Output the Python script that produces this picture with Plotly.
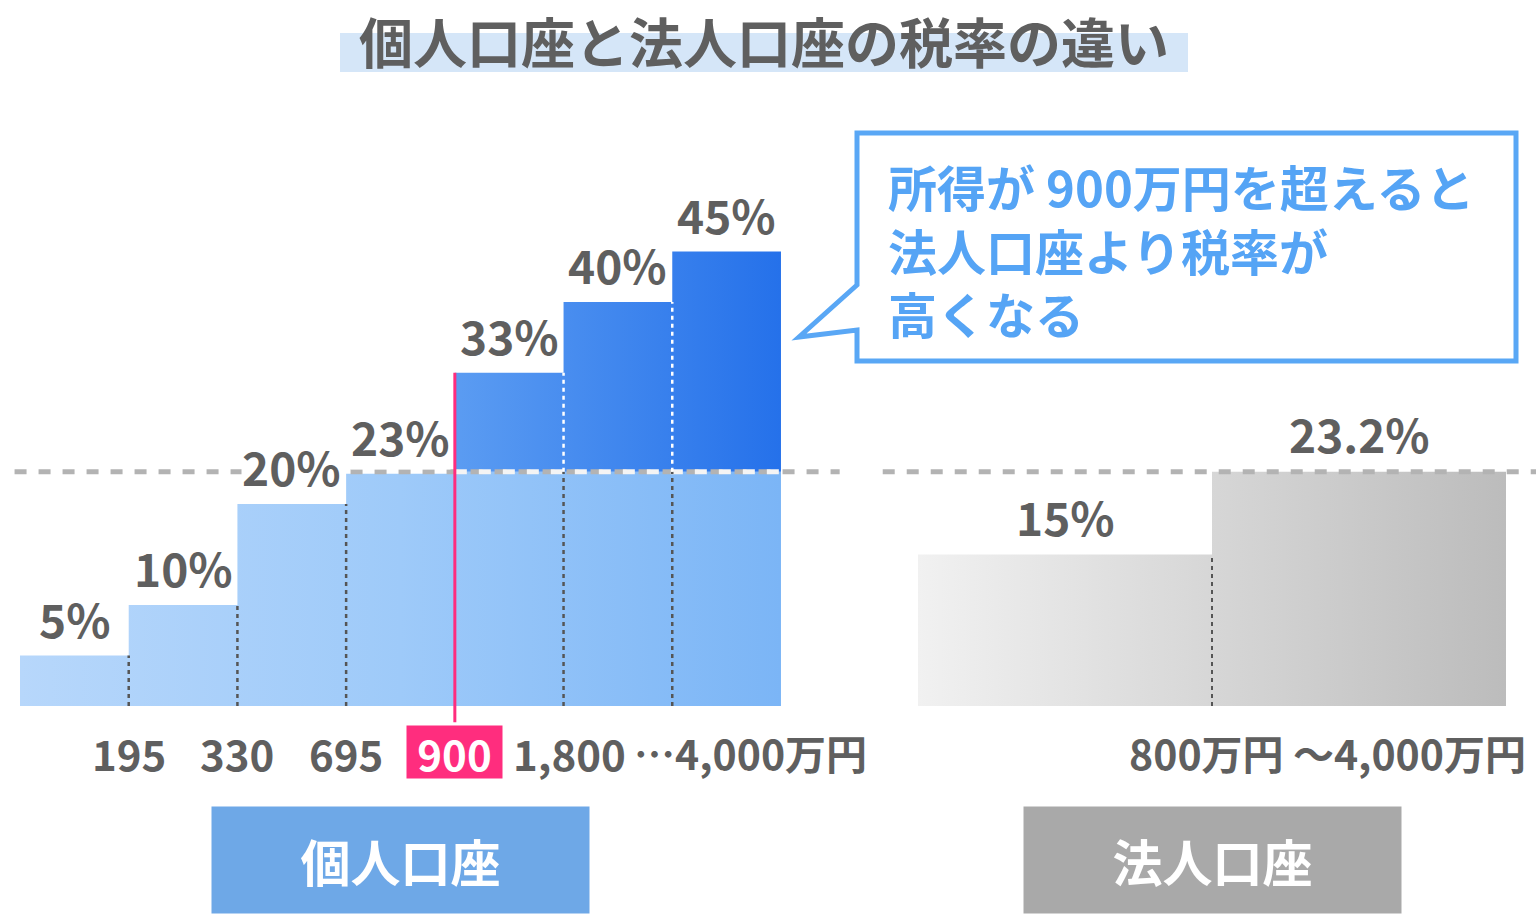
import plotly.graph_objects as go

# ---------------- data ----------------
indiv_rates = [5, 10, 20, 23, 33, 40, 45]            # individual income tax rates (%)
indiv_ticks = ["195", "330", "695", "900", "1,800"]  # bracket boundaries (万円)
indiv_last_tick = "…4,000万円"
highlight_tick = "900"
corp_rates = [15, 23.2]                               # corporate tax rates (%)
corp_label = "800万円 ～4,000万円"
ref_rate = 23.2                                       # corporate max rate (reference line)
title = "個人口座と法人口座の税率の違い"
callout_lines = ["所得が 900万円を超えると", "法人口座より税率が", "高くなる"]
box_labels = ["個人口座", "法人口座"]

W, H = 1536, 914
FONT = "Noto Sans CJK JP"
TXT = "#5f5f5f"

def px(x):
    return x / W

def py(y):
    return 1 - y / H

fig = go.Figure()

# ---------- individual bars: lower part ----------
n = len(indiv_rates)
xs, ys = [0], [0]
for i, r in enumerate(indiv_rates):
    h = min(r, ref_rate)
    xs += [i, i + 1]
    ys += [h, h]
xs += [n]
ys += [0]
fig.add_trace(go.Scatter(
    x=xs, y=ys, fill="toself", mode="lines", line=dict(width=0),
    fillgradient=dict(type="horizontal",
                      colorscale=[[0, "#b7d7fb"], [0.5, "#9ecaf9"], [1, "#7bb5f6"]]),
    hoverinfo="skip", xaxis="x", yaxis="y"))

# ---------- individual bars: upper part (above corporate max) ----------
up = [i for i, r in enumerate(indiv_rates) if r > ref_rate]
ux, uy = [up[0]], [ref_rate]
for i in up:
    ux += [i, i + 1]
    uy += [indiv_rates[i], indiv_rates[i]]
ux += [up[-1] + 1]
uy += [ref_rate]
fig.add_trace(go.Scatter(
    x=ux, y=uy, fill="toself", mode="lines", line=dict(width=0),
    fillgradient=dict(type="horizontal",
                      colorscale=[[0, "#5b9cf2"], [1, "#2571ea"]]),
    hoverinfo="skip", xaxis="x", yaxis="y"))

# ---------- corporate bars ----------
m = len(corp_rates)
cx, cy = [0], [0]
for i, r in enumerate(corp_rates):
    cx += [i, i + 1]
    cy += [r, r]
cx += [m]
cy += [0]
fig.add_trace(go.Scatter(
    x=cx, y=cy, fill="toself", mode="lines", line=dict(width=0),
    fillgradient=dict(type="horizontal",
                      colorscale=[[0, "#f1f1f1"], [1, "#bcbcbc"]]),
    hoverinfo="skip", xaxis="x2", yaxis="y"))

# ---------- reference dashed lines ----------
fig.add_trace(go.Scatter(x=[-0.05, 7.54], y=[ref_rate, ref_rate], mode="lines",
                         line=dict(color="#b3b3b3", width=5, dash="12px,12px"),
                         hoverinfo="skip", xaxis="x", yaxis="y"))
fig.add_trace(go.Scatter(x=[up[0], up[-1] + 1], y=[ref_rate, ref_rate], mode="lines",
                         line=dict(color="#f4f4f4", width=5, dash="12px,12px"),
                         hoverinfo="skip", xaxis="x", yaxis="y"))
fig.add_trace(go.Scatter(x=[-0.12, 2.11], y=[ref_rate, ref_rate], mode="lines",
                         line=dict(color="#b3b3b3", width=5, dash="12px,12px"),
                         hoverinfo="skip", xaxis="x2", yaxis="y"))

# ---------- boundary dotted lines ----------
hi_idx = indiv_ticks.index(highlight_tick) + 1
for b in range(1, n):
    if b == hi_idx:
        continue
    low = min(indiv_rates[b - 1], indiv_rates[b])
    fig.add_trace(go.Scatter(x=[b, b], y=[0, min(low, ref_rate)], mode="lines",
                             line=dict(color="#555555", width=2.5, dash="4px,4px"),
                             hoverinfo="skip", xaxis="x", yaxis="y"))
    if low > ref_rate:
        fig.add_trace(go.Scatter(x=[b, b], y=[ref_rate, low], mode="lines",
                                 line=dict(color="#ffffff", width=2.5, dash="4px,4px"),
                                 hoverinfo="skip", xaxis="x", yaxis="y"))
for b in range(1, m):
    low = min(corp_rates[b - 1], corp_rates[b])
    fig.add_trace(go.Scatter(x=[b, b], y=[0, low], mode="lines",
                             line=dict(color="#555555", width=2, dash="4px,4px"),
                             hoverinfo="skip", xaxis="x2", yaxis="y"))

# ---------- highlight (900) pink line ----------
fig.add_trace(go.Scatter(x=[hi_idx, hi_idx], y=[-1.6, indiv_rates[hi_idx]], mode="lines",
                         line=dict(color="#ff2d7e", width=3),
                         hoverinfo="skip", xaxis="x", yaxis="y"))

annotations = []
# percentage labels
for i, r in enumerate(indiv_rates):
    crosses = ref_rate - 5 < r < ref_rate
    annotations.append(dict(x=i + 0.5, y=r, xref="x", yref="y", text=f"{r}%",
                            showarrow=False, xanchor="center", yanchor="bottom", yshift=4,
                            bgcolor="white" if crosses else "rgba(0,0,0,0)", borderpad=0,
                            font=dict(family=FONT, size=46, color=TXT, weight=700)))
for i, r in enumerate(corp_rates):
    annotations.append(dict(x=i + 0.5, y=r, xref="x2", yref="y", text=f"{r}%",
                            showarrow=False, xanchor="center", yanchor="bottom", yshift=4,
                            font=dict(family=FONT, size=46, color=TXT, weight=700)))
# tick labels
TICK_Y = -4.6
for k, t in enumerate(indiv_ticks):
    if t == highlight_tick:
        annotations.append(dict(x=k + 1, y=TICK_Y, xref="x", yref="y", text=t,
                                showarrow=False, xanchor="center", yanchor="middle",
                                bgcolor="#ff2d7e", borderpad=0, width=95, height=52,
                                font=dict(family=FONT, size=42, color="white", weight=700)))
    else:
        annotations.append(dict(x=k + 1, y=TICK_Y, xref="x", yref="y", text=t,
                                showarrow=False, xanchor="center", yanchor="middle",
                                xshift=6 if k == 4 else 0,
                                font=dict(family=FONT, size=42, color=TXT, weight=700)))
annotations.append(dict(x=n - 1, y=TICK_Y, xref="x", yref="y", text=indiv_last_tick,
                        showarrow=False, xanchor="left", yanchor="middle", xshift=-40,
                        font=dict(family=FONT, size=41, color=TXT, weight=700)))
annotations.append(dict(x=px(1528), y=TICK_Y, xref="paper", yref="y", text=corp_label,
                        showarrow=False, xanchor="right", yanchor="middle",
                        font=dict(family=FONT, size=41, color=TXT, weight=700)))

# title
annotations.append(dict(x=px(764), y=1, xref="paper", yref="paper", text=title,
                        showarrow=False, xanchor="center", yanchor="top", borderpad=0,
                        font=dict(family=FONT, size=54, color=TXT, weight=700)))
# bottom boxes
annotations.append(dict(x=px(400), y=py(860), xref="paper", yref="paper", text=box_labels[0],
                        showarrow=False, xanchor="center", yanchor="middle",
                        bgcolor="#6ea8e7", width=375, height=104,
                        font=dict(family=FONT, size=50, color="white", weight=700)))
annotations.append(dict(x=px(1212), y=py(860), xref="paper", yref="paper", text=box_labels[1],
                        showarrow=False, xanchor="center", yanchor="middle",
                        bgcolor="#a9a9a9", width=375, height=104,
                        font=dict(family=FONT, size=50, color="white", weight=700)))
# callout text
annotations.append(dict(x=px(886), y=py(249), xref="paper", yref="paper",
                        text="<br>".join(callout_lines), align="left",
                        showarrow=False, xanchor="left", yanchor="middle",
                        font=dict(family=FONT, size=49, color="#55a4f5", weight=700)))

shapes = [
    dict(type="rect", xref="paper", yref="paper", x0=px(340), x1=px(1188),
         y0=py(72), y1=py(33), fillcolor="#d5e6f8", line=dict(width=0), layer="below"),
    dict(type="path", xref="paper", yref="paper",
         path=(f"M {px(857)},{py(133)} L {px(1516)},{py(133)} L {px(1516)},{py(361)} "
               f"L {px(857)},{py(361)} L {px(857)},{py(330)} L {px(799)},{py(337)} "
               f"L {px(857)},{py(285)} Z"),
         fillcolor="white", line=dict(color="#59a7f5", width=5), layer="above"),
]

fig.update_layout(
    width=W, height=H, margin=dict(l=0, r=0, t=0, b=0),
    paper_bgcolor="white", plot_bgcolor="rgba(0,0,0,0)", showlegend=False,
    xaxis=dict(domain=[0, 860 / W], range=[-20 / 108.71, 840 / 108.71], visible=False),
    xaxis2=dict(domain=[870 / W, 1], range=[(870 - 918) / 294, (1536 - 918) / 294],
                visible=False, anchor="y"),
    yaxis=dict(domain=[0, 1], range=[-(914 - 706) / 10.1, 706 / 10.1], visible=False),
    annotations=annotations, shapes=shapes,
)

fig.write_html("out.html", config={"displayModeBar": False},
               post_script="document.body.style.margin='0';")
